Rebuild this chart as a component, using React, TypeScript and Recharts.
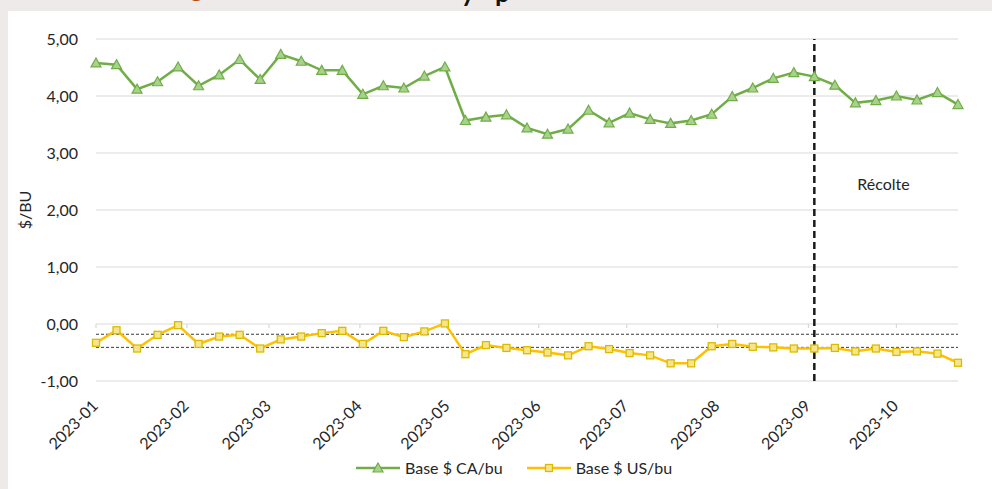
import React from 'react';
import {
  LineChart,
  Line,
  XAxis,
  YAxis,
  CartesianGrid,
  ReferenceLine,
  Legend,
  Label,
} from 'recharts';

// weekly observations (Sundays)
const weekDates = [
  '2023-01-01', '2023-01-08', '2023-01-15', '2023-01-22', '2023-01-29',
  '2023-02-05', '2023-02-12', '2023-02-19', '2023-02-26',
  '2023-03-05', '2023-03-12', '2023-03-19', '2023-03-26',
  '2023-04-02', '2023-04-09', '2023-04-16', '2023-04-23', '2023-04-30',
  '2023-05-07', '2023-05-14', '2023-05-21', '2023-05-28',
  '2023-06-04', '2023-06-11', '2023-06-18', '2023-06-25',
  '2023-07-02', '2023-07-09', '2023-07-16', '2023-07-23', '2023-07-30',
  '2023-08-06', '2023-08-13', '2023-08-20', '2023-08-27',
  '2023-09-03', '2023-09-10', '2023-09-17', '2023-09-24',
  '2023-10-01', '2023-10-08', '2023-10-15', '2023-10-22',
];

const baseCA = [
  4.58, 4.55, 4.12, 4.25, 4.51, 4.18, 4.37, 4.64, 4.29, 4.73,
  4.61, 4.45, 4.45, 4.03, 4.18, 4.14, 4.35, 4.51, 3.57, 3.63,
  3.67, 3.44, 3.33, 3.42, 3.75, 3.53, 3.70, 3.59, 3.52, 3.57,
  3.68, 3.99, 4.14, 4.31, 4.41, 4.34, 4.19, 3.88, 3.92, 4.00,
  3.93, 4.06, 3.85,
];

const baseUS = [
  -0.33, -0.11, -0.43, -0.19, -0.02, -0.35, -0.22, -0.19, -0.43, -0.27,
  -0.22, -0.16, -0.12, -0.35, -0.12, -0.23, -0.13, 0.01, -0.53, -0.37,
  -0.42, -0.46, -0.5, -0.55, -0.39, -0.44, -0.51, -0.55, -0.69, -0.69,
  -0.39, -0.35, -0.4, -0.41, -0.43, -0.43, -0.42, -0.48, -0.43, -0.49,
  -0.48, -0.52, -0.68,
];

const monthTicks = [
  '2023-01-01', '2023-02-01', '2023-03-01', '2023-04-01', '2023-05-01',
  '2023-06-01', '2023-07-01', '2023-08-01', '2023-09-01', '2023-10-01',
];

const yTicks = [-1, 0, 1, 2, 3, 4, 5];
const usBand = [-0.18, -0.41];
const harvestDate = '2023-09-03';
const harvestLabel = 'Récolte';

const FONT = 'Lato, "Open Sans", sans-serif';
const GREEN = '#70AD47';
const GREEN_FILL = '#A9D18E';
const YELLOW = '#FFC000';
const YELLOW_FILL = '#F6E58C';
const YELLOW_EDGE = '#D9BC00';

const toTime = (d: string) => Date.parse(d + 'T00:00:00Z');

const data = weekDates.map((d, i) => ({
  t: toTime(d),
  ca: baseCA[i],
  us: baseUS[i],
}));

const fmtNum = (v: number) => v.toFixed(2).replace('.', ',');
const fmtMonth = (v: number) => new Date(v).toISOString().slice(0, 7);

const Triangle = ({ cx, cy }: { cx: number; cy: number }) => (
  <path
    d={`M${cx},${cy - 5}L${cx + 5},${cy + 4}L${cx - 5},${cy + 4}Z`}
    fill={GREEN_FILL}
    stroke={GREEN}
    strokeWidth={1.2}
  />
);

const Square = ({ cx, cy }: { cx: number; cy: number }) => (
  <rect
    x={cx - 3.5}
    y={cy - 3.5}
    width={7}
    height={7}
    fill={YELLOW_FILL}
    stroke={YELLOW_EDGE}
    strokeWidth={1.3}
  />
);

const DateTick = ({ x, y, payload }: any) => {
  const px = x + 3;
  const py = y + 26;
  return (
    <text
      x={px}
      y={py}
      transform={`rotate(-45 ${px} ${py})`}
      textAnchor='end'
      fill='#262626'
      fontSize={16}
      fontFamily={FONT}
    >
      {fmtMonth(payload.value)}
    </text>
  );
};

const LegendContent = () => {
  const items = [
    { name: 'Base $ CA/bu', color: GREEN, marker: 'tri' },
    { name: 'Base $ US/bu', color: YELLOW, marker: 'sq' },
  ];
  return (
    <div style={{ display: 'flex', alignItems: 'center', gap: 24 }}>
      {items.map((it) => (
        <div key={it.name} style={{ display: 'flex', alignItems: 'center' }}>
          <svg width={44} height={14} style={{ marginRight: 5 }}>
            <line x1={0} y1={7} x2={44} y2={7} stroke={it.color} strokeWidth={2.5} />
            {it.marker === 'tri' ? <Triangle cx={22} cy={7} /> : <Square cx={22} cy={7} />}
          </svg>
          <span style={{ fontSize: 16, color: '#262626', fontFamily: FONT }}>
            {it.name}
          </span>
        </div>
      ))}
    </div>
  );
};

const App: React.FC = () => {
  const xDomain = [toTime(weekDates[0]), toTime(weekDates[weekDates.length - 1])];

  return (
    <div
      style={{
        position: 'absolute',
        left: 0,
        top: 0,
        width: 992,
        height: 489,
        background: '#EEEAE9',
        overflow: 'hidden',
        fontFamily: FONT,
      }}
    >
      {/* bottom of the page heading, cut off by the panel */}
      <div style={{ position: 'absolute', left: 0, top: 0, width: 992, height: 11, overflow: 'hidden' }}>
        <span style={{ position: 'absolute', left: 190, top: -29, fontSize: 26, fontWeight: 700, color: '#B3470F' }}>g</span>
        <span style={{ position: 'absolute', left: 461, top: -24, fontSize: 26, fontWeight: 700, color: '#111' }}>y</span>
        <span style={{ position: 'absolute', left: 495, top: -24, fontSize: 26, fontWeight: 700, color: '#111' }}>p</span>
      </div>

      <div style={{ position: 'absolute', left: 8, top: 11, right: 0, bottom: 0, background: '#fff' }} />

      <div style={{ position: 'absolute', left: 0, top: 0 }}>
        <LineChart
          width={992}
          height={489}
          data={data}
          margin={{ top: 39, right: 34, left: 0, bottom: 0 }}
        >
          <CartesianGrid vertical={false} stroke='#D9D9D9' strokeWidth={1.2} />
          <XAxis
            type='number'
            dataKey='t'
            domain={xDomain}
            ticks={monthTicks.map(toTime)}
            tick={<DateTick />}
            tickLine={false}
            axisLine={false}
            tickSize={0}
            tickMargin={0}
            height={108}
            interval={0}
          />
          <YAxis
            domain={[-1, 5]}
            ticks={yTicks}
            tickFormatter={fmtNum}
            tickLine={false}
            axisLine={false}
            tickSize={0}
            tickMargin={18}
            width={96}
            tick={{ fill: '#262626', fontSize: 16, fontFamily: FONT }}
          >
            <Label
              content={({ viewBox }: any) => {
                const cx = 24;
                const cy = viewBox.y + viewBox.height / 2;
                return (
                  <text
                    x={cx}
                    y={cy}
                    transform={`rotate(-90 ${cx} ${cy})`}
                    textAnchor='middle'
                    dominantBaseline='central'
                    fontSize={16}
                    fill='#262626'
                    fontFamily={FONT}
                  >
                    $/BU
                  </text>
                );
              }}
            />
          </YAxis>

          {monthTicks.map((m) => (
            <ReferenceLine
              key={m}
              segment={[
                { x: toTime(m), y: 0 },
                { x: toTime(m), y: -0.07 },
              ]}
              stroke='#D9D9D9'
              strokeWidth={1.2}
            />
          ))}

          {usBand.map((v) => (
            <ReferenceLine
              key={v}
              y={v}
              stroke='#3A3A3A'
              strokeWidth={1}
              strokeDasharray='3 2'
            />
          ))}

          <ReferenceLine
            x={toTime(harvestDate)}
            stroke='#1A1A1A'
            strokeWidth={2.5}
            strokeDasharray='7 4'
            label={({ viewBox }: any) => (
              <text
                x={viewBox.x + 43}
                y={viewBox.y + 144}
                dominantBaseline='central'
                fontSize={16}
                fill='#262626'
                fontFamily={FONT}
              >
                {harvestLabel}
              </text>
            )}
          />

          <Line
            dataKey='ca'
            name='Base $ CA/bu'
            stroke={GREEN}
            strokeWidth={2.5}
            isAnimationActive={false}
            dot={(p: any) => <Triangle key={`ca-${p.index}`} cx={p.cx} cy={p.cy} />}
          />
          <Line
            dataKey='us'
            name='Base $ US/bu'
            stroke={YELLOW}
            strokeWidth={2.5}
            isAnimationActive={false}
            dot={(p: any) => <Square key={`us-${p.index}`} cx={p.cx} cy={p.cy} />}
          />

          <Legend
            layout='horizontal'
            verticalAlign='middle'
            align='center'
            content={<LegendContent />}
            wrapperStyle={{ top: 458, left: 356, width: 'auto' }}
          />
        </LineChart>
      </div>
    </div>
  );
};

export default App;
